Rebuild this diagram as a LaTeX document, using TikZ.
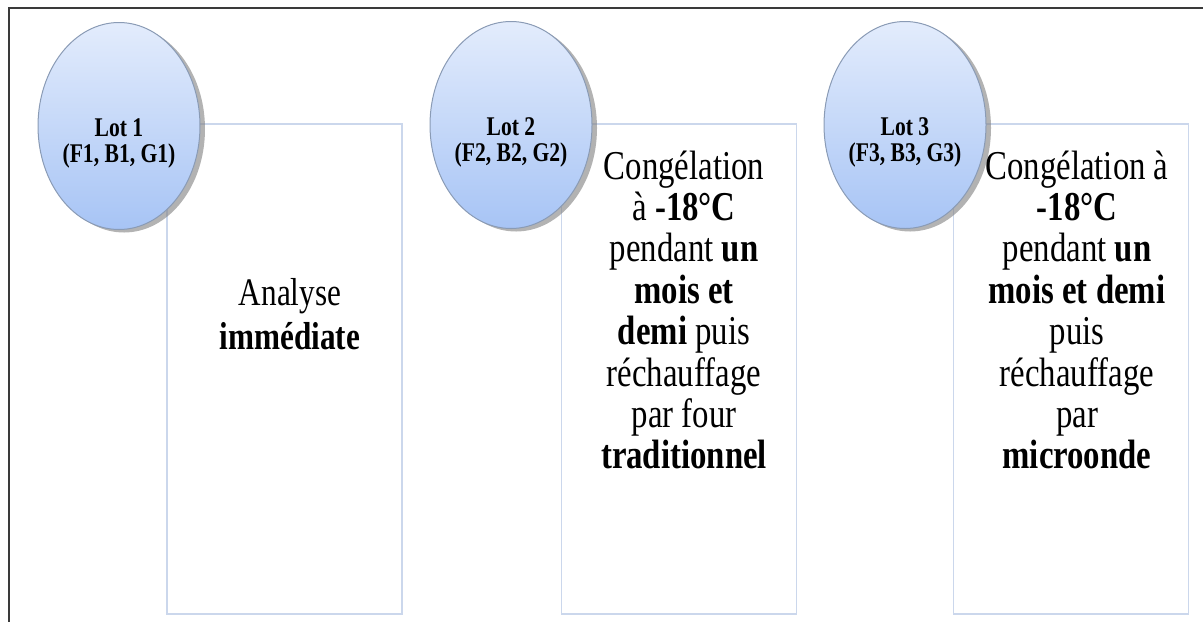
\documentclass[tikz,border=0pt]{standalone}
\usepackage{fontspec}
\setmainfont{Liberation Serif}[FakeStretch=0.8]
\usetikzlibrary{shapes.geometric,shadows}
\definecolor{lotblue}{HTML}{A7C4F5}
\definecolor{lotlight}{HTML}{E3ECFC}
\definecolor{lotedge}{HTML}{8A9BB5}
\definecolor{boxedge}{HTML}{CBD7EC}
\definecolor{framegray}{HTML}{3A3A3A}

\begin{document}
\begin{tikzpicture}[x=0.5pt,y=-0.5pt,
  lot/.style={ellipse, draw=lotedge, line width=0.5pt, top color=lotlight, bottom color=lotblue, minimum width=81pt, minimum height=103.5pt, drop shadow={shadow xshift=2.5pt, shadow yshift=-1.5pt, opacity=0.6}},
  lottxt/.style={font=\fontsize{13.5}{13}\selectfont\bfseries, align=center, inner sep=0pt},
  stepbox/.style={rectangle, draw=boxedge, line width=0.9pt, fill=white, minimum width=117.5pt, minimum height=245pt, inner sep=0pt},
  boxtxt/.style={font=\fontsize{20.5}{20.7}\selectfont, align=center, inner sep=0pt}]
\useasboundingbox (0,0) rectangle (1203,622);
\draw[framegray, line width=1.2pt] (1203,8) -- (9,8) -- (9,622);

\node[stepbox] (b1) at (284.5,369) {};
\node[stepbox] (b2) at (679,369) {};
\node[stepbox] (b3) at (1071,369) {};

\node[lot] (e1) at (119,126) {};
\node[lot] (e2) at (511,125) {};
\node[lot] (e3) at (905,125) {};

\node[lottxt] (l1) at (119,143) {Lot 1\\(F1, B1, G1)};
\node[lottxt] (l2) at (511,142) {Lot 2\\(F2, B2, G2)};
\node[lottxt] (l3) at (905,142) {Lot 3\\(F3, B3, G3)};

\node[boxtxt, font=\fontsize{19.5}{22}\selectfont] (t1) at (290,314) {Analyse\\\textbf{immédiate}};
\node[boxtxt] (t2) at (684,310) {Congélation\\à \textbf{-18°C}\\pendant \textbf{un}\\\textbf{mois et}\\\textbf{demi} puis\\réchauffage\\par four\\\textbf{traditionnel}};
\node[boxtxt] (t3) at (1077,310) {Congélation à\\\textbf{-18°C}\\pendant \textbf{un}\\\textbf{mois et demi}\\puis\\réchauffage\\par\\\textbf{microonde}};
\end{tikzpicture}
\end{document}
